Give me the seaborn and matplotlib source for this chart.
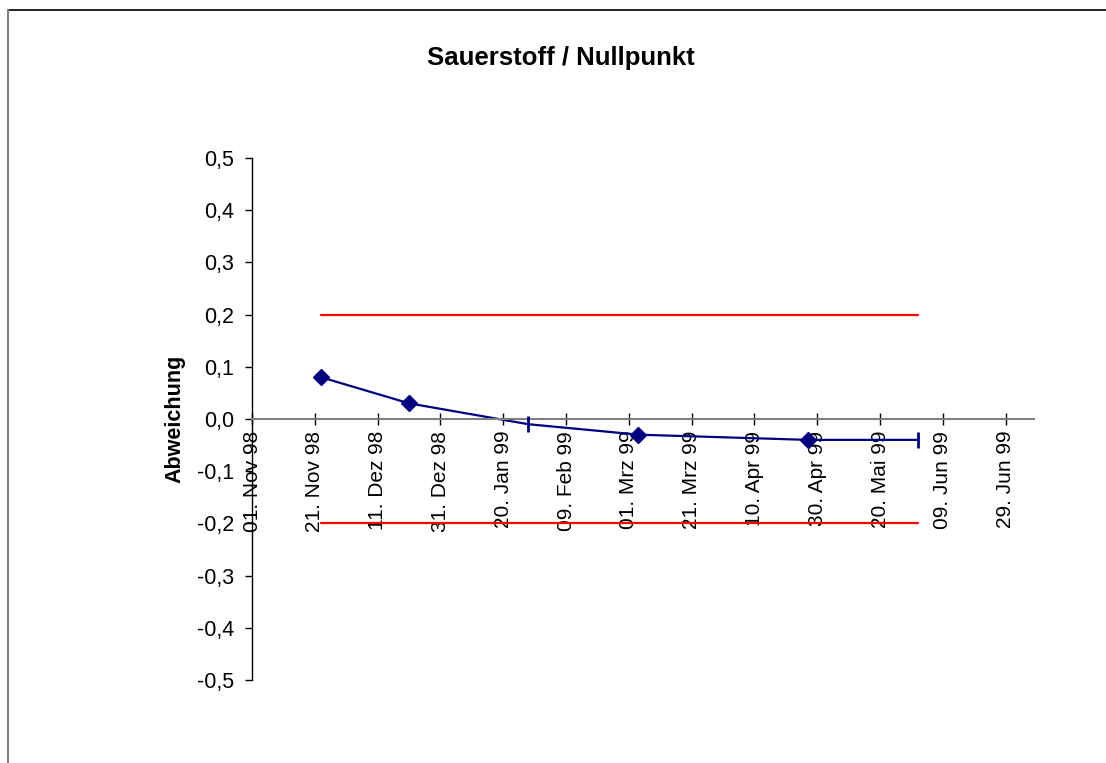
import pandas as pd
import matplotlib
matplotlib.use("Agg")
import matplotlib.pyplot as plt
from matplotlib.ticker import FuncFormatter, FixedLocator, MultipleLocator
from matplotlib.lines import Line2D
import seaborn as sns

dates = pd.to_datetime(["1998-11-23", "1998-12-21", "1999-01-28",
                        "1999-03-04", "1999-04-27", "1999-06-01"])
deviation = [0.08, 0.03, -0.01, -0.03, -0.04, -0.04]
marker_kind = ["D", "D", "|", "D", "D", "|"]

# Toleranzgrenzen
limit_dates = pd.to_datetime(["1998-11-23", "1999-06-01"])
upper_limit = [0.2, 0.2]
lower_limit = [-0.2, -0.2]

# Achse
tick_dates = pd.date_range("1998-11-01", "1999-06-29", freq="20D")
months_de = ["Jan", "Feb", "Mrz", "Apr", "Mai", "Jun",
             "Jul", "Aug", "Sep", "Okt", "Nov", "Dez"]
x_min, x_max = pd.Timestamp("1998-11-01"), pd.Timestamp("1999-07-08")

sns.set_style("ticks")
plt.rcParams['font.family'] = ['Liberation Sans', 'DejaVu Sans']
plt.rcParams.update({"text.color": "black", "axes.labelcolor": "black",
                     "xtick.color": "black", "ytick.color": "black"})

fig = plt.figure(figsize=(11.06, 7.63), dpi=100)
ax = fig.add_axes([252 / 1106, 83 / 763, 782 / 1106, 522 / 763])

df = pd.DataFrame({"Datum": dates, "Abweichung": deviation, "Marker": marker_kind})

# Grenzlinien
sns.lineplot(x=limit_dates, y=upper_limit, color="#ff0000", lw=1.6, ax=ax)
sns.lineplot(x=limit_dates, y=lower_limit, color="#ff0000", lw=1.6, ax=ax)

# Messreihe
sns.lineplot(data=df, x="Datum", y="Abweichung", color="#000080", lw=1.6, ax=ax)
for kind, sub in df.groupby("Marker"):
    if kind == "D":
        ax.plot(sub["Datum"], sub["Abweichung"], ls="none", marker="D",
                ms=8.5, color="#000080", zorder=4)
    else:
        ax.plot(sub["Datum"], sub["Abweichung"], ls="none", marker="|",
                ms=11, mew=2, color="#000080", zorder=4)

ax.set_xlim(x_min, x_max)
ax.set_ylim(-0.5, 0.5)
ax.yaxis.set_major_locator(MultipleLocator(0.1))
ax.yaxis.set_major_formatter(FuncFormatter(lambda v, p: f"{v:.1f}".replace(".", ",").replace("-0,0", "0,0")))

ax.xaxis.set_major_locator(FixedLocator(matplotlib.dates.date2num(tick_dates)))


def de_date(v, pos):
    d = matplotlib.dates.num2date(v)
    return f"{d.day:02d}. {months_de[d.month - 1]} {d.year % 100:02d}"


ax.xaxis.set_major_formatter(FuncFormatter(de_date))

for s in ["top", "right"]:
    ax.spines[s].set_visible(False)
ax.spines["bottom"].set_position(("data", 0))
ax.spines["bottom"].set_color("#808080")
ax.spines["bottom"].set_linewidth(1.5)
ax.spines["left"].set_color("black")
ax.spines["left"].set_linewidth(1)

ax.tick_params(axis="x", direction="inout", length=9, width=1, color="black",
               pad=4, labelsize=15, labelrotation=90)
ax.tick_params(axis="y", direction="out", length=5, width=1, color="black",
               pad=8, labelsize=15.5)

ax.set_xlabel("")
ax.set_ylabel("Abweichung", fontsize=15.5, fontweight="bold")
ax.yaxis.set_label_coords(-0.085, 0.5)

fig.text(561 / 1106, 1 - 58 / 763, "Sauerstoff / Nullpunkt", ha="center",
         va="center", fontsize=18.5, fontweight="bold")

# Rahmen des Diagrammbereichs
fig.add_artist(Line2D([7.5 / 1106, 1.0], [1 - 10 / 763, 1 - 10 / 763],
                      transform=fig.transFigure, color="black", lw=1.2))
fig.add_artist(Line2D([7.5 / 1106, 7.5 / 1106], [0.0, 1 - 10 / 763],
                      transform=fig.transFigure, color="#808080", lw=1.5))

fig.savefig("out.png", dpi=100)
